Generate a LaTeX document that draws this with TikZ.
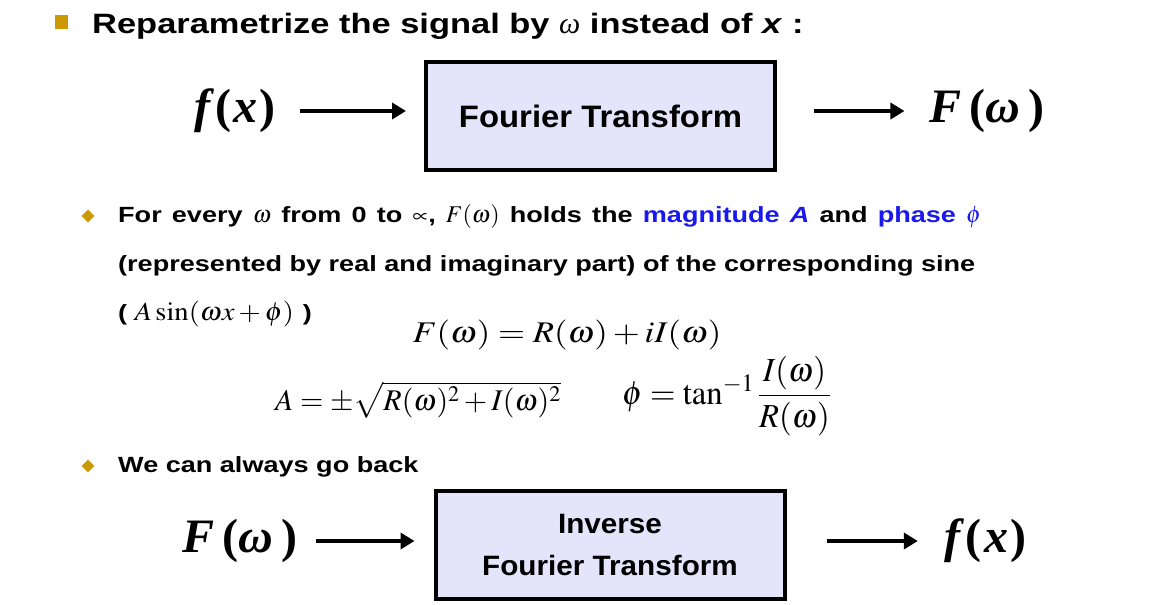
\documentclass[tikz,border=0pt]{standalone}
\usepackage{mathptmx}
\usepackage[no-math]{fontspec}
\setmainfont[FakeStretch=1.23]{Liberation Sans}
\newfontfamily\boxfont[FakeStretch=1.06]{Liberation Sans}
\newfontfamily\serifit{Liberation Serif}
\usetikzlibrary{arrows.meta}
\definecolor{gold}{RGB}{204,153,0}
\definecolor{boxfill}{RGB}{228,228,250}
\definecolor{hlblue}{RGB}{25,25,235}
\begin{document}
\begin{tikzpicture}[x=1pt,y=-1pt,
  box/.style={draw=black, line width=4pt, fill=boxfill, minimum width=349pt, minimum height=108pt,
    align=center, inner sep=0pt},
  arr/.style={line width=4.5pt, -{Triangle[length=14pt,width=16pt]}},
  big/.style={font=\fontsize{48}{52}\selectfont\serifit\bfseries, inner sep=0pt},
  txt/.style={anchor=base west, font=\fontsize{22}{26}\selectfont\bfseries, inner sep=0pt},
  eq/.style={inner sep=0pt, font=\fontsize{30}{34}\selectfont},
  sq/.style={fill=gold, minimum width=13pt, minimum height=14pt, inner sep=0pt},
  dia/.style={fill=gold, minimum size=9pt, inner sep=0pt, rotate=45},
]
\useasboundingbox[fill=white] (0,0) rectangle (1162,605);

% title
\node[sq] (b0) at (61,22) {};
\node[anchor=base west, font=\fontsize{28}{32}\selectfont\bfseries, inner sep=0pt] (title) at (92,33)
  {Reparametrize the signal by {\serifit\itshape\mdseries\fontsize{30}{32}\selectfont ω} instead of \textit{x} :};

% top chain
\node[box, font=\fontsize{31}{42}\selectfont\boxfont\bfseries] (ft) at (600.5,116) {Fourier Transform};
\node[big] (fx) at (235,111) {\itshape f\kern5pt\upshape(\kern3pt\itshape x\kern2pt\upshape)};
\node[big] (Fw) at (987,111) {\itshape F\/\upshape\,(\itshape ω\upshape\,)};
\draw[arr, shorten <=24pt, shorten >=18pt] (fx.east) -- (fx.east -| ft.west);
\draw[arr, shorten <=37pt, shorten >=25pt] (ft.east |- Fw.west) -- (Fw.west);

% bullet 1
\node[dia] (b1) at (88,216) {};
\node[txt] (l1) at (118,222)
  {\spaceskip=1.35\fontdimen2\font\relax For every {\fontsize{24}{26}\selectfont$\omega$} from 0 to $\propto$, {\fontsize{24}{26}\selectfont$F(\omega)$} holds the \textcolor{hlblue}{magnitude \textit{A}} and \textcolor{hlblue}{phase {\fontsize{24}{26}\selectfont$\phi$}}};
\node[txt] (l2) at (118,271)
  {(represented by real and imaginary part) of the corresponding sine};
\node[txt] (l3) at (118,320)
  {( \mdseries\fontsize{26}{28}\selectfont\scalebox{1.1}[1]{$A\sin(\omega x+\phi)$} \bfseries\fontsize{22}{26}\selectfont)};

% equations
\node[eq, anchor=base] (e1) at (567,342) {\scalebox{1.16}[1]{$F(\omega)=R(\omega)+iI(\omega)$}};
\node[eq, anchor=base west] (e2) at (275,410) {$A=\pm\sqrt{R(\omega)^{2}+I(\omega)^{2}}$};
\node[eq, anchor=base west] (e3) at (622,404) {\scalebox{1.09}[1.12]{$\phi=\tan^{-1}\displaystyle\frac{I(\omega)}{R(\omega)}$}};

% bullet 2
\node[dia] (b2) at (88,466) {};
\node[txt] (l4) at (118,472) {We can always go back};

% bottom chain
\node[box, font=\fontsize{28}{42}\selectfont\boxfont\bfseries] (ift) at (610,545) {Inverse\\Fourier Transform};
\node[big] (Fw2) at (240,541) {\itshape F\/\upshape\,(\itshape ω\upshape\,)};
\node[big] (fx2) at (985,541) {\itshape f\kern5pt\upshape(\kern3pt\itshape x\kern2pt\upshape)};
\draw[arr, shorten <=18pt, shorten >=19pt] (Fw2.east) -- (Fw2.east -| ift.west);
\draw[arr, shorten <=40pt, shorten >=26pt] (ift.east |- fx2.west) -- (fx2.west);
\end{tikzpicture}
\end{document}
